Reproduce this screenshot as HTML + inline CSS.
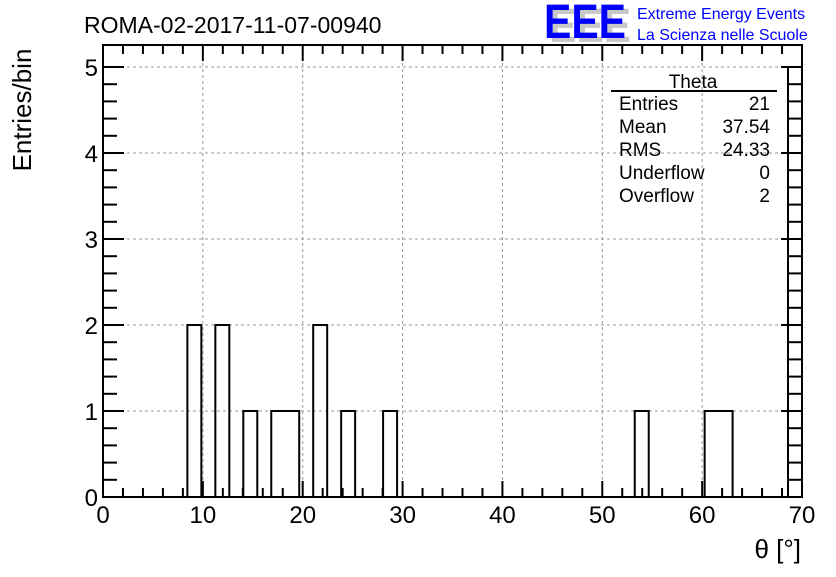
<!DOCTYPE html>
<html><head><meta charset="utf-8"><style>
body{margin:0;background:#fff;width:836px;height:572px;overflow:hidden;font-family:"Liberation Sans",sans-serif}
</style></head><body>
<svg id="c" width="836" height="572" xmlns="http://www.w3.org/2000/svg" font-family="Liberation Sans, sans-serif">
<text x="84" y="33" font-size="23">ROMA-02-2017-11-07-00940</text>
<g>
<text x="549" y="42" font-size="48" font-weight="bold" fill="#c8c8c8" textLength="82" lengthAdjust="spacingAndGlyphs">EEE</text>
<text x="544" y="38" font-size="48" font-weight="bold" fill="#0000ff" textLength="82" lengthAdjust="spacingAndGlyphs">EEE</text>
<text x="637" y="19" font-size="16" fill="#0000ff">Extreme Energy Events</text>
<text x="637" y="40" font-size="16" fill="#0000ff">La Scienza nelle Scuole</text>
</g>
<g id="grid"></g>
<g id="bars"></g>
<g id="axes"></g>
<text transform="translate(31,110) rotate(-90)" text-anchor="middle" font-size="26">Entries/bin</text>
<text x="801" y="558" text-anchor="end" font-size="26">θ [°]</text>
<g font-size="19">
<text x="693" y="88" text-anchor="middle">Theta</text>
<line x1="611" y1="91" x2="777" y2="91" stroke="#000" stroke-width="2"/>
<text x="619" y="110">Entries</text><text x="770" y="110" text-anchor="end">21</text>
<text x="619" y="133">Mean</text><text x="770" y="133" text-anchor="end">37.54</text>
<text x="619" y="156">RMS</text><text x="770" y="156" text-anchor="end">24.33</text>
<text x="619" y="179">Underflow</text><text x="770" y="179" text-anchor="end">0</text>
<text x="619" y="202">Overflow</text><text x="770" y="202" text-anchor="end">2</text>
</g>
</svg>
<script>
const binIndex=[6,8,10,12,13,15,17,20,38,43,44];
const binCounts=[2,2,1,1,1,2,1,1,1,1,1];
const xTicks=[0,10,20,30,40,50,60,70];
const yTicks=[0,1,2,3,4,5];
const binWidth=1.4, binOffset=0.05, nBins=50;
const X0=103,X1=802,Y0=497,Y1=45;
const xs=v=>X0+v*(X1-X0)/70;
const ys=v=>Y0-v*86;
const NS="http://www.w3.org/2000/svg";
function mk(tag,attrs,parent){const e=document.createElementNS(NS,tag);for(const k in attrs)e.setAttribute(k,attrs[k]);document.getElementById(parent).appendChild(e);return e;}
xTicks.forEach(t=>{if(t>0&&t<70){const l=mk('line',{x1:xs(t),x2:xs(t),y1:Y1,y2:Y0,stroke:'#999','stroke-dasharray':'3,3'},'grid');

}});
yTicks.forEach(t=>{if(t>0){const l=mk('line',{x1:X0,x2:X1,y1:ys(t),y2:ys(t),stroke:'#999','stroke-dasharray':'3,3'},'grid');

}});
// histogram outline as step path
const counts=new Array(nBins).fill(0);
binIndex.forEach((k,i)=>{counts[k]=binCounts[i];});
let d='M'+xs(binOffset)+','+Y0;let prev=0;
for(let k=0;k<nBins;k++){const xe=xs(binOffset+k*binWidth);const c=counts[k];
if(c!==prev){d+=' L'+xe+','+ys(prev)+' L'+xe+','+ys(c);}prev=c;}
d+=' L'+xs(binOffset+nBins*binWidth)+','+ys(prev);
const hp=mk('path',{d:d,fill:'none',stroke:'#000','stroke-width':2},'bars');


binIndex.forEach((k,i)=>{const a=binOffset+k*binWidth;const r=mk('rect',{x:xs(a),y:ys(binCounts[i]),width:xs(a+binWidth)-xs(a),height:Y0-ys(binCounts[i]),fill:'none',stroke:'none'},'bars');

});
const f=mk('rect',{x:X0,y:Y1,width:X1-X0,height:Y0-Y1,fill:'none',stroke:'#000','stroke-width':2},'axes');


const sl=mk('line',{x1:788,x2:788,y1:67,y2:Y0,stroke:'#000','stroke-width':2},'axes');


for(let v=0;v<=70;v+=2){const len=v%10===0?16:9;
mk('line',{x1:xs(v),x2:xs(v),y1:Y0,y2:Y0-len,stroke:'#000','stroke-width':2},'axes');
mk('line',{x1:xs(v),x2:xs(v),y1:Y1,y2:Y1+len,stroke:'#000','stroke-width':2},'axes');}
for(let v=0;v<=5.2;v+=0.2){const y=ys(v);const len=Math.abs(v-Math.round(v))<0.01?21:14;
mk('line',{x1:X0,x2:X0+len,y1:y,y2:y,stroke:'#000','stroke-width':2},'axes');
mk('line',{x1:X1,x2:X1-len,y1:y,y2:y,stroke:'#000','stroke-width':2},'axes');}
xTicks.forEach(t=>{const e=mk('text',{x:xs(t),y:523,'text-anchor':'middle','font-size':24},'axes');e.textContent=t;

});
yTicks.forEach(t=>{const e=mk('text',{x:98,y:ys(t)+9,'text-anchor':'end','font-size':24},'axes');e.textContent=t;

});
</script>
</body></html>
